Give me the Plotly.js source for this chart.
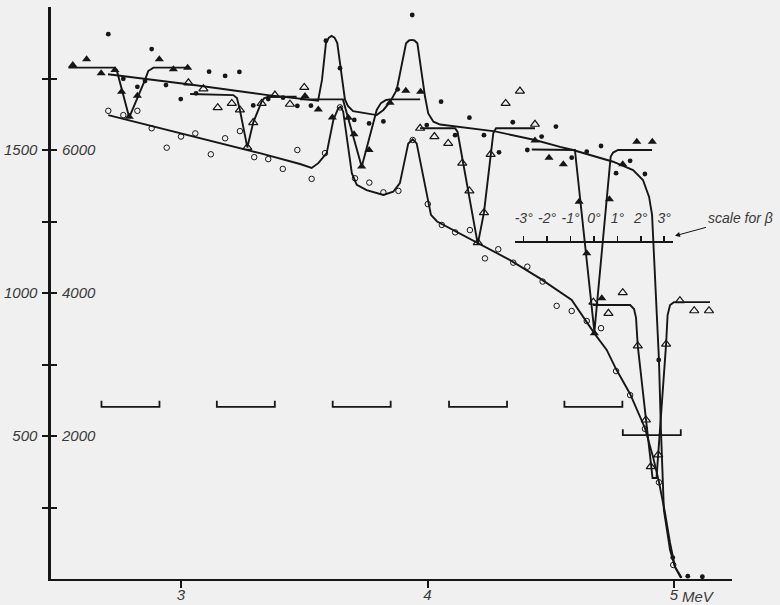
<!DOCTYPE html>
<html>
<head>
<meta charset="utf-8">
<script src="https://cdn.plot.ly/plotly-3.0.1.min.js"></script>
<style>html,body{margin:0;padding:0;background:#f0f0f0;}</style>
</head>
<body>
<div id="chart" style="width:780px;height:605px;"></div>
<script>
// ---- data (energy in MeV, yield on left scale) ----
const dotE  = [2.705,2.881,3.114,2.823,2.939,2.999,3.061,2.766,2.854,3.179,3.237,3.293,3.354,3.472,3.527,3.414,3.938,3.588,3.645,3.763,3.821,3.879,3.997,3.703,4.055,4.170,4.346,4.521,4.112,4.229,4.290,4.463,4.405,4.704,4.646,4.585,4.822,4.765,4.882,4.938,4.995,5.056,5.115];
const dotY  = [1905,1853,1774,1721,1727,1678,1698,1749,1741,1759,1773,1656,1678,1654,1655,1683,1972,1882,1786,1593,1600,1712,1587,1605,1669,1613,1597,1582,1552,1552,1492,1547,1500,1514,1494,1473,1462,1419,1416,766,75,10,8];

const ftriE = [2.561,2.617,2.676,2.732,2.912,2.969,3.027,2.759,2.823,2.790,3.503,3.557,3.614,3.679,3.702,3.763,3.733,3.848,3.912,3.972,4.436,4.493,4.849,4.912,4.551,4.792,4.615,4.738,4.646,4.707,4.677];
const ftriY = [1797,1817,1768,1780,1817,1782,1788,1704,1690,1616,1689,1642,1614,1613,1555,1500,1442,1665,1707,1704,1533,1473,1529,1529,1450,1450,1319,1328,1139,982,859];

const otriE = [3.030,3.091,3.149,3.206,3.239,3.327,3.293,3.381,3.442,3.500,3.269,3.970,4.028,4.375,4.317,4.436,4.084,4.141,4.170,4.256,4.229,4.204,4.792,4.673,4.734,5.024,5.082,5.142,4.853,4.968,4.886,4.936,4.906];
const otriY = [1735,1714,1648,1663,1640,1663,1596,1692,1660,1719,1509,1576,1547,1706,1663,1590,1523,1454,1357,1485,1281,1176,1001,968,929,973,938,938,815,821,556,434,393];

const ocircE = [2.705,2.766,2.823,2.881,2.942,3.000,3.058,3.179,3.239,3.121,3.297,3.354,3.413,3.472,3.530,3.584,3.645,3.706,3.764,3.821,3.882,3.940,4.001,4.058,4.112,4.172,4.287,4.233,4.348,4.405,4.467,4.524,4.585,4.646,4.704,4.765,4.822,4.882,4.939,4.997];
const ocircY = [1637,1622,1637,1576,1508,1547,1558,1541,1566,1485,1475,1468,1434,1500,1399,1489,1649,1401,1386,1352,1357,1535,1311,1238,1212,1220,1153,1121,1106,1092,1040,955,937,902,877,727,643,525,338,49];

// fitted curves
const curveDotE = [2.704,3.037,3.353,3.556,3.572,3.588,3.600,3.611,3.623,3.634,3.665,3.677,3.698,3.746,3.794,3.821,3.848,3.875,3.913,3.925,3.936,3.947,3.959,3.990,4.003,4.024,4.051,4.274,4.436,4.538,4.590,4.753,4.834,4.874,4.899,4.911,4.919,4.931,4.939,4.947,4.959,4.984,5.004,5.028];
const curveDotY = [1765,1729,1692,1672,1745,1874,1893,1899,1893,1874,1677,1654,1636,1629,1622,1640,1668,1710,1873,1883,1885,1883,1873,1686,1628,1599,1589,1565,1535,1511,1500,1459,1430,1395,1336,1273,1115,871,766,521,241,101,42,4];

const curveCircE = [2.705,3.118,3.320,3.483,3.530,3.557,3.591,3.618,3.638,3.648,3.658,3.693,3.713,3.753,3.821,3.861,3.888,3.922,3.940,3.956,4.003,4.014,4.039,4.204,4.335,4.456,4.585,4.677,4.727,4.765,4.822,4.882,4.915,4.939,4.963,4.984,5.004,5.031];
const curveCircY = [1622,1533,1489,1451,1437,1454,1489,1605,1646,1651,1634,1419,1378,1360,1343,1354,1384,1523,1537,1523,1314,1273,1250,1176,1115,1051,976,859,801,734,647,528,427,339,234,126,42,4];

const curveFtriE = [2.543,2.725,2.739,2.790,2.854,2.867,2.888,3.037,null,3.483,3.657,3.733,3.794,3.811,3.832,3.848,3.970,null,4.423,4.598,4.677,4.743,4.753,4.773,4.911];
const curveFtriY = [1788,1788,1780,1614,1745,1776,1788,1788,null,1677,1677,1441,1640,1664,1675,1677,1677,null,1502,1500,864,1476,1491,1500,1500];

const curveOtriE = [3.037,3.212,3.227,3.239,3.269,3.293,3.327,3.337,3.354,3.469,null,3.970,4.112,4.122,4.204,4.229,4.256,4.267,4.278,4.436,null,4.671,4.822,4.838,4.846,4.853,4.886,4.907,4.913,4.929,4.936,4.968,4.974,4.984,5.000,5.146];
const curveOtriY = [1696,1692,1682,1640,1509,1596,1669,1681,1686,1686,null,1576,1576,1563,1171,1281,1485,1559,1576,1576,null,958,958,944,913,815,556,392,353,353,434,822,923,958,968,968];

// angle brackets (centre energy, level)
const bracketE = [2.795,3.263,3.733,4.205,4.673,4.910];
const bracketY = [602,602,602,602,602,503];

// scale for beta
const betaDeg = [-3,-2,-1,0,1,2,3];
const betaLabels = ['-3°','-2°','-1°','0°','1°','2°','3°'];

// axis ticks
const yTickVals = [250,500,750,1000,1250,1500,1750];
const yLeftLabels = ['','500','','1000','','1500',''];
const yRightLabels = ['','2000','','4000','','6000',''];
const xTickVals = [3,4,5];
const xTickLabels = ['3','4','5'];

// ---- build ----
const INK = '#161616';
const FONT = 'Liberation Sans, Arial, sans-serif';
const tickFont = {family: FONT, size: 15, color: '#3a3a3a', style: 'italic'};

const halfW = 0.1176, endH = 21;
const bx = [], by = [];
bracketE.forEach((c, i) => {
  const lv = bracketY[i];
  bx.push(c - halfW, c - halfW, c + halfW, c + halfW, null);
  by.push(lv + endH, lv, lv, lv + endH, null);
});

const lineStyle = {color: INK, width: 1.9};
const traces = [
  {x: curveDotE, y: curveDotY, mode: 'lines', line: lineStyle, hoverinfo: 'skip'},
  {x: curveCircE, y: curveCircY, mode: 'lines', line: lineStyle, hoverinfo: 'skip'},
  {x: curveFtriE, y: curveFtriY, mode: 'lines', line: lineStyle, hoverinfo: 'skip', connectgaps: false},
  {x: curveOtriE, y: curveOtriY, mode: 'lines', line: lineStyle, hoverinfo: 'skip', connectgaps: false},
  {x: bx, y: by, mode: 'lines', line: {color: INK, width: 1.8}, hoverinfo: 'skip', connectgaps: false},
  {x: dotE, y: dotY, mode: 'markers', marker: {symbol: 'circle', size: 4.8, color: INK}},
  {x: ftriE, y: ftriY, mode: 'markers', marker: {symbol: 'triangle-up', size: 8, color: INK}},
  {x: otriE, y: otriY, mode: 'markers', marker: {symbol: 'triangle-up-open', size: 8, color: INK, line: {color: INK, width: 1.2}}},
  {x: ocircE, y: ocircY, mode: 'markers', marker: {symbol: 'circle-open', size: 5.5, color: INK, line: {color: INK, width: 1}}},
  {x: betaDeg, y: betaDeg.map(() => null), xaxis: 'x2', yaxis: 'y', mode: 'markers', hoverinfo: 'skip'},
  {x: [null], y: [null], yaxis: 'y2', mode: 'markers', hoverinfo: 'skip'}
];

const layout = {
  width: 780, height: 605,
  margin: {l: 51, r: 48, t: 7, b: 26, pad: 0},
  paper_bgcolor: '#f0f0f0', plot_bgcolor: 'rgba(0,0,0,0)',
  showlegend: false,
  xaxis: {
    range: [2.4726, 5.2353], showline: true, linewidth: 2.2, linecolor: INK,
    ticks: 'outside', ticklen: 7, tickwidth: 2, tickcolor: INK,
    tickvals: xTickVals, ticktext: xTickLabels, tickfont: tickFont,
    ticklabelstandoff: -6,
    showgrid: false, zeroline: false
  },
  xaxis2: {
    domain: [0.6814, 0.9134], anchor: 'free', position: 0.5897, side: 'top',
    range: [-3.37, 3.38], tickvals: betaDeg, ticktext: betaLabels,
    ticks: 'outside', ticklen: 5, tickwidth: 1.6, tickcolor: INK,
    showline: true, linewidth: 2, linecolor: INK, showgrid: false, zeroline: false,
    ticklabelstandoff: 7,
    tickfont: {family: FONT, size: 14, color: '#3a3a3a', style: 'italic'}
  },
  yaxis: {
    range: [0, 2000], showline: true, linewidth: 2.6, linecolor: INK,
    ticks: 'outside', ticklen: 6, tickwidth: 2, tickcolor: INK,
    tickvals: yTickVals, ticktext: yLeftLabels, tickfont: tickFont,
    ticklabelstandoff: 2,
    showgrid: false, zeroline: false
  },
  yaxis2: {
    overlaying: 'y', anchor: 'x', side: 'left', range: [0, 2000],
    ticks: 'inside', ticklen: 6, tickwidth: 2, tickcolor: INK,
    ticklabelposition: 'inside', tickvals: yTickVals, ticktext: yRightLabels,
    ticklabelstandoff: 5,
    tickfont: tickFont, showline: false, showgrid: false, zeroline: false
  },
  annotations: [
    {x: 5, xref: 'x', y: -0.03, yref: 'paper', xanchor: 'left', yanchor: 'middle', xshift: 6,
     text: 'MeV', showarrow: false, font: tickFont},
    {x: 5.0, xref: 'x', y: 1199, yref: 'y', text: 'scale for β', showarrow: true,
     ax: 66, ay: -18, arrowhead: 2, arrowsize: 1, arrowwidth: 1, arrowcolor: INK, standoff: 1,
     font: {family: FONT, size: 14, color: '#3a3a3a', style: 'italic'}}
  ]
};

Plotly.newPlot('chart', traces, layout, {displayModeBar: false, staticPlot: true});
</script>
</body>
</html>
